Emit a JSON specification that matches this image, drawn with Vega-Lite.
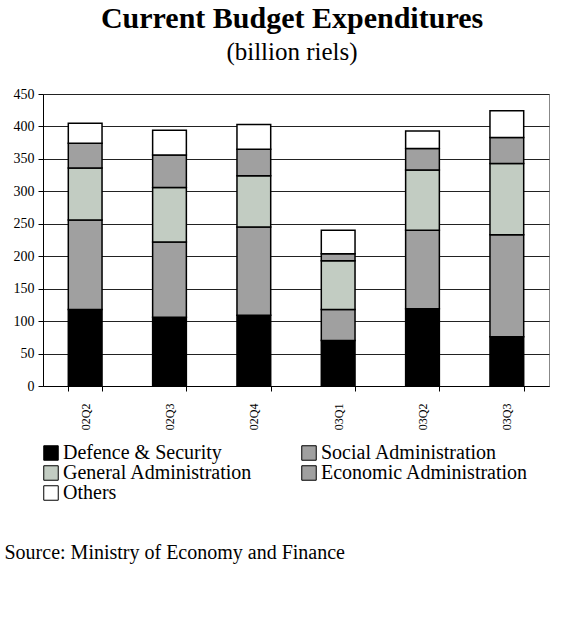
{
  "$schema": "https://vega.github.io/schema/vega-lite/v6.json",
  "autosize": {"type": "none"},
  "padding": {"left": 43, "top": 94, "right": 39, "bottom": 238},
  "width": 506,
  "height": 292,
  "background": "white",
  "title": {
    "text": "Current Budget Expenditures",
    "subtitle": "(billion riels)",
    "anchor": "middle",
    "frame": "group",
    "dx": -4,
    "offset": 22,
    "font": "Liberation Serif",
    "fontSize": 30,
    "fontWeight": "bold",
    "color": "black",
    "subtitleFont": "Liberation Serif",
    "subtitleFontSize": 25,
    "subtitleColor": "black",
    "subtitlePadding": 6
  },
  "data": {
    "values": [
      {"quarter": "02Q2", "category": "Defence & Security", "value": 118},
      {"quarter": "02Q2", "category": "Social Administration", "value": 138},
      {"quarter": "02Q2", "category": "General Administration", "value": 80},
      {"quarter": "02Q2", "category": "Economic Administration", "value": 38},
      {"quarter": "02Q2", "category": "Others", "value": 31},
      {"quarter": "02Q3", "category": "Defence & Security", "value": 106},
      {"quarter": "02Q3", "category": "Social Administration", "value": 116},
      {"quarter": "02Q3", "category": "General Administration", "value": 84},
      {"quarter": "02Q3", "category": "Economic Administration", "value": 50},
      {"quarter": "02Q3", "category": "Others", "value": 38},
      {"quarter": "02Q4", "category": "Defence & Security", "value": 109},
      {"quarter": "02Q4", "category": "Social Administration", "value": 136},
      {"quarter": "02Q4", "category": "General Administration", "value": 79},
      {"quarter": "02Q4", "category": "Economic Administration", "value": 41},
      {"quarter": "02Q4", "category": "Others", "value": 38},
      {"quarter": "03Q1", "category": "Defence & Security", "value": 70},
      {"quarter": "03Q1", "category": "Social Administration", "value": 48},
      {"quarter": "03Q1", "category": "General Administration", "value": 75},
      {"quarter": "03Q1", "category": "Economic Administration", "value": 11},
      {"quarter": "03Q1", "category": "Others", "value": 36},
      {"quarter": "03Q2", "category": "Defence & Security", "value": 119},
      {"quarter": "03Q2", "category": "Social Administration", "value": 121},
      {"quarter": "03Q2", "category": "General Administration", "value": 93},
      {"quarter": "03Q2", "category": "Economic Administration", "value": 33},
      {"quarter": "03Q2", "category": "Others", "value": 27},
      {"quarter": "03Q3", "category": "Defence & Security", "value": 76},
      {"quarter": "03Q3", "category": "Social Administration", "value": 157},
      {"quarter": "03Q3", "category": "General Administration", "value": 110},
      {"quarter": "03Q3", "category": "Economic Administration", "value": 40},
      {"quarter": "03Q3", "category": "Others", "value": 41}
    ]
  },
  "transform": [
    {"calculate": "indexof(['Defence & Security', 'Social Administration', 'General Administration', 'Economic Administration', 'Others'], datum.category)", "as": "stack_order"}
  ],
  "mark": {"type": "bar", "stroke": "black", "strokeWidth": 1.5},
  "encoding": {
    "x": {
      "field": "quarter",
      "type": "nominal",
      "sort": null,
      "scale": {"paddingInner": 0.6, "paddingOuter": 0.3},
      "axis": {
        "title": "Source: Ministry of Economy and Finance",
        "titleFont": "Liberation Serif",
        "titleFontSize": 20,
        "titleFontWeight": "normal",
        "titleColor": "black",
        "titleAlign": "left",
        "titleAnchor": "start",
        "titleBaseline": "alphabetic",
        "titleX": -39,
        "titleY": 172,
        "labelAngle": -90,
        "labelFont": "Liberation Serif",
        "labelFontSize": 12,
        "labelColor": "black",
        "labelPadding": 12,
        "tickSize": 5,
        "tickBand": "extent",
        "tickColor": "black",
        "domainColor": "black",
        "grid": false
      }
    },
    "y": {
      "field": "value",
      "type": "quantitative",
      "stack": "zero",
      "scale": {"domain": [0, 450], "nice": false},
      "axis": {
        "title": null,
        "values": [0, 50, 100, 150, 200, 250, 300, 350, 400, 450],
        "labelFont": "Liberation Serif",
        "labelFontSize": 14,
        "labelColor": "black",
        "labelPadding": 4,
        "tickSize": 5,
        "tickColor": "black",
        "domainColor": "black",
        "grid": true,
        "gridColor": "#222",
        "gridWidth": 1
      }
    },
    "order": {"field": "stack_order", "type": "quantitative", "sort": "ascending"},
    "fill": {
      "field": "category",
      "type": "nominal",
      "sort": ["Defence & Security", "Social Administration", "General Administration", "Economic Administration", "Others"],
      "scale": {
        "domain": ["Defence & Security", "Social Administration", "General Administration", "Economic Administration", "Others"],
        "range": ["#000000", "#a0a0a0", "#c2ccc2", "#a0a0a0", "#ffffff"]
      },
      "legend": {
        "orient": "none",
        "legendX": -2,
        "legendY": 349,
        "direction": "horizontal",
        "columns": 2,
        "title": null,
        "padding": 0,
        "symbolType": "square",
        "symbolSize": 210,
        "symbolStrokeColor": "black",
        "symbolStrokeWidth": 1,
        "symbolOpacity": 1,
        "labelFont": "Liberation Serif",
        "labelFontSize": 20,
        "labelColor": "black",
        "labelLimit": 400,
        "labelOffset": 2,
        "rowPadding": -2,
        "columnPadding": 46
      }
    }
  },
  "config": {
    "view": {"stroke": "#888", "strokeWidth": 1}
  }
}
